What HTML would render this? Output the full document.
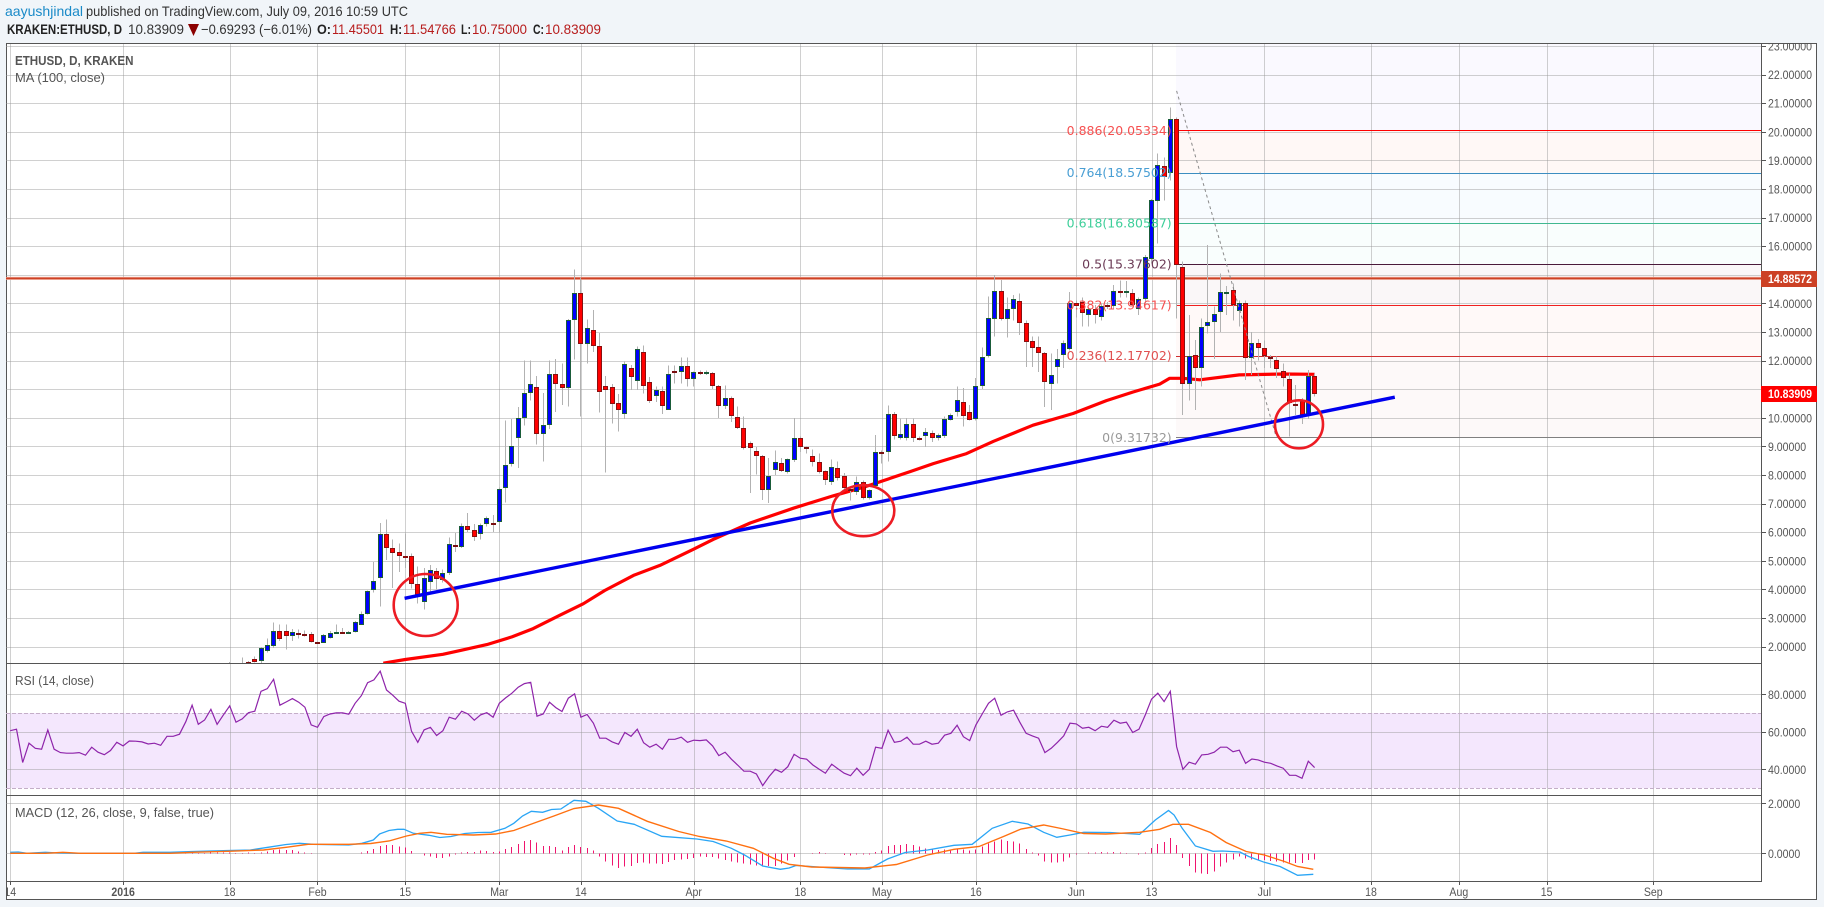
<!DOCTYPE html>
<html lang="en">
<head>
<meta charset="utf-8">
<title>ETHUSD Daily Chart</title>
<style>
html,body{margin:0;padding:0;background:#f1f5f9;width:1824px;height:907px;overflow:hidden}
svg{display:block}
text{font-family:"Liberation Sans",Arial,sans-serif}
.hd{font-size:14px}
</style>
</head>
<body>
<svg id="chart" xmlns="http://www.w3.org/2000/svg" width="1824" height="907" viewBox="0 0 1824 907">
  <defs>
    <clipPath id="clip-main"><rect x="6" y="44" width="1755" height="619"/></clipPath>
    <clipPath id="clip-rsi"><rect x="6" y="664" width="1755" height="131"/></clipPath>
    <clipPath id="clip-macd"><rect x="6" y="796" width="1755" height="85"/></clipPath>
    <clipPath id="clip-axis"><rect x="1762" y="44" width="55" height="837"/></clipPath>
    <clipPath id="clip-time"><rect x="7" y="882" width="1753" height="18"/></clipPath>
  </defs>
  <rect x="0" y="0" width="1824" height="907" fill="#f1f5f9"/>

  <g>
    <text class="hd" x="5" y="16" fill="#1a8ac8" textLength="78" lengthAdjust="spacingAndGlyphs">aayushjindal</text>
    <text class="hd" x="86" y="16" fill="#333" textLength="322" lengthAdjust="spacingAndGlyphs">published on TradingView.com, July 09, 2016 10:59 UTC</text>
    <text class="hd" x="7" y="34" fill="#222" font-weight="bold" textLength="115" lengthAdjust="spacingAndGlyphs">KRAKEN:ETHUSD, D</text>
    <text class="hd" x="128" y="34" fill="#333" textLength="56" lengthAdjust="spacingAndGlyphs">10.83909</text>
    <polygon points="188,24 199,24 193.5,36" fill="#8b0000"/>
    <text class="hd" x="201" y="34" fill="#333" textLength="111" lengthAdjust="spacingAndGlyphs">−0.69293 (−6.01%)</text>
    <text class="hd" x="317" y="34" fill="#222" font-weight="bold" textLength="14" lengthAdjust="spacingAndGlyphs">O:</text>
    <text class="hd" x="332" y="34" fill="#b71c1c" textLength="52" lengthAdjust="spacingAndGlyphs">11.45501</text>
    <text class="hd" x="390" y="34" fill="#222" font-weight="bold" textLength="12" lengthAdjust="spacingAndGlyphs">H:</text>
    <text class="hd" x="403" y="34" fill="#b71c1c" textLength="53" lengthAdjust="spacingAndGlyphs">11.54766</text>
    <text class="hd" x="461" y="34" fill="#222" font-weight="bold" textLength="10" lengthAdjust="spacingAndGlyphs">L:</text>
    <text class="hd" x="472" y="34" fill="#b71c1c" textLength="55" lengthAdjust="spacingAndGlyphs">10.75000</text>
    <text class="hd" x="533" y="34" fill="#222" font-weight="bold" textLength="11" lengthAdjust="spacingAndGlyphs">C:</text>
    <text class="hd" x="545" y="34" fill="#b71c1c" textLength="56" lengthAdjust="spacingAndGlyphs">10.83909</text>
  </g>

  <rect x="6.5" y="43.5" width="1810" height="856" fill="#fff" stroke="#555" stroke-width="1"/>
  <g id="layer-fib-fill"></g>
  <rect id="rsi-band" fill="#f4e7fd"/>
  <g id="layer-grid"></g>
  <g id="layer-rsi-guides"></g>
  <g clip-path="url(#clip-main)">
    <g id="layer-fib-lines"></g>
    <g id="layer-resistance"></g>
    <g id="layer-ma"></g>
    <g id="layer-candles"></g>
    <g id="layer-drawings"></g>
    <ellipse cx="425.7" cy="605" rx="32" ry="31" fill="none" stroke="#ed1c24" stroke-width="2.6"/>
    <ellipse cx="863.3" cy="510.7" rx="31" ry="25.5" fill="none" stroke="#ed1c24" stroke-width="2.6"/>
    <ellipse cx="1299" cy="424.3" rx="24" ry="24" fill="none" stroke="#ed1c24" stroke-width="2.6"/>
    <g id="layer-fib-labels"></g>
  </g>
  <g clip-path="url(#clip-rsi)"><g id="layer-rsi"></g></g>
  <g clip-path="url(#clip-macd)"><g id="layer-macd"></g></g>

  <g stroke="#555" stroke-width="1" fill="none" shape-rendering="crispEdges">
    <line x1="6" y1="663.5" x2="1761" y2="663.5"/>
    <line x1="6" y1="795.5" x2="1761" y2="795.5"/>
    <line x1="6" y1="881.5" x2="1761" y2="881.5"/>
    <line x1="1761.5" y1="43" x2="1761.5" y2="882"/>
  </g>
  <g clip-path="url(#clip-axis)"><g id="layer-y-axis"></g></g>
  <g clip-path="url(#clip-time)"><g id="layer-x-axis"></g></g>
  <g id="layer-x-ticks"></g>

  <rect x="1761" y="271" width="56" height="16" fill="#cc4125"/>
  <text transform="translate(1768,283) scale(.88,1)" font-size="12" font-weight="bold" fill="#fff">14.88572</text>
  <rect x="1761" y="386" width="56" height="16" fill="#ff0000"/>
  <text transform="translate(1768,398) scale(.88,1)" font-size="12" font-weight="bold" fill="#fff">10.83909</text>

  <text x="15" y="65" font-size="13" font-weight="bold" fill="#555" textLength="118.5" lengthAdjust="spacingAndGlyphs">ETHUSD, D, KRAKEN</text>
  <text x="15" y="82" font-size="13" fill="#555" textLength="90" lengthAdjust="spacingAndGlyphs">MA (100, close)</text>
  <text x="15" y="685" font-size="13" fill="#555" textLength="79" lengthAdjust="spacingAndGlyphs">RSI (14, close)</text>
  <text x="15" y="817" font-size="13" fill="#555" textLength="199" lengthAdjust="spacingAndGlyphs">MACD (12, 26, close, 9, false, true)</text>
</svg>

<script>
// ---------- Data ----------
const firstCandleDay = 35;
const opens = [
1.40,1.3,1.3,1.47,1.55,1.5,1.86,2.02,2.56,2.56,
2.37,2.46,2.44,2.45,2.15,2.14,2.31,2.5,2.52,2.49,
2.52,2.77,3.15,3.99,4.41,5.95,5.45,5.31,5.18,5.18,
4.2,3.57,4.27,4.66,4.32,4.58,5.56,5.5,6.2,6.06,
5.95,6.3,6.31,6.34,7.56,8.39,9.31,9.99,10.87,11.08,
9.45,9.75,11.53,11.18,11.03,13.42,14.37,12.58,13.07,12.51,
11.11,11.08,10.52,10.15,11.74,11.27,12.29,11.25,10.75,10.94,
10.29,11.63,11.59,11.81,11.34,11.6,11.58,11.57,11.11,10.4,
10.69,10.03,9.64,9.12,8.84,8.66,7.46,8.16,8.42,8.12,
8.52,9.29,8.97,8.66,8.45,8.14,7.75,8.24,7.95,7.5,
7.4,7.74,7.18,7.6,8.81,8.82,10.12,9.29,9.31,9.77,
9.31,9.38,9.47,9.31,9.38,9.94,10.19,10.54,10.2,9.96,
11.1,12.15,13.46,14.42,13.47,13.82,14.1,13.3,12.69,12.46,
12.25,11.18,11.76,12.21,12.42,14.03,14.06,13.6,13.79,13.51,
13.94,13.91,14.44,14.4,14.35,13.82,14.14,15.54,17.57,18.79,
18.55,20.44,15.28,11.18,12.21,11.73,13.22,13.34,13.69,14.37,
14.47,13.73,14.03,12.08,12.6,12.43,12.14,12.01,11.63,11.35,
10.47,10.57,10.13,11.45];
const closes = [
1.44,1.35,1.38,1.46,1.46,1.96,2.07,2.56,2.27,2.37,
2.52,2.44,2.42,2.16,2.13,2.41,2.49,2.52,2.5,2.51,
2.87,3.15,3.96,4.31,5.95,5.45,5.29,5.17,5.11,4.2,
3.82,4.41,4.69,4.35,4.59,5.57,5.54,6.2,6.06,5.83,
6.26,6.49,6.29,7.52,8.35,9.01,9.99,10.87,11.18,9.45,
9.75,11.53,11.18,11.03,13.42,14.37,12.58,13.14,12.51,10.89,
10.96,10.5,10.29,11.88,11.41,12.41,11.1,10.57,10.97,10.4,
11.53,11.59,11.81,11.34,11.6,11.57,11.6,11.1,10.43,10.69,
10.05,9.66,8.96,8.93,8.65,7.46,7.96,8.45,8.15,8.56,
9.29,8.98,8.95,8.45,8.09,7.81,8.28,7.91,7.53,7.47,
7.74,7.19,7.46,8.82,8.77,10.12,9.35,9.42,9.77,9.29,
9.29,9.5,9.31,9.4,9.96,10.1,10.61,10.08,9.92,11.1,
12.11,13.48,14.42,13.47,13.79,14.17,13.3,12.66,12.45,12.25,
11.25,11.5,12.04,12.6,14.0,13.92,13.68,13.79,13.61,13.92,
13.92,14.44,14.35,14.42,13.96,14.14,15.61,17.6,18.83,18.41,
20.44,15.34,11.18,12.17,11.73,13.16,13.34,13.62,14.39,14.41,
13.94,14.03,12.08,12.6,12.43,12.15,12.12,11.71,11.38,10.51,
10.45,10.1,11.47,10.84];
const highs = [
1.47,1.4,1.62,1.5,1.65,1.98,2.28,2.84,2.77,2.77,
2.62,2.6,2.57,2.51,2.17,2.44,2.55,2.77,2.65,2.55,
2.9,3.22,3.96,4.96,6.33,6.45,5.75,5.6,5.95,5.25,
4.8,4.75,4.85,4.75,4.69,5.82,5.98,6.3,6.68,6.28,
6.3,6.55,6.6,7.56,9.9,9.95,10.37,12,12,11.47,
10.87,12,12.05,11.9,13.45,15.18,14.9,13.43,13.77,12.97,
11.47,11.19,10.84,11.97,11.85,12.5,12.52,11.43,11.1,11.1,
11.82,11.82,12.1,12.1,11.62,11.65,11.65,11.6,11.15,11.13,
10.75,10.4,10.05,9.18,8.98,8.7,8.6,8.85,8.6,8.58,
10,9.35,9,8.9,8.75,8.15,8.54,8.48,8.07,7.55,
7.95,7.8,7.5,9.4,8.85,10.43,10.2,9.98,10,9.98,
9.35,9.65,9.55,9.45,10.05,10.15,11.1,11.05,10.45,11.4,
12.46,14.25,15,14.82,14.2,14.3,14.35,13.4,12.85,12.85,
12.3,12.25,12.4,12.7,14.4,14.1,14.2,13.85,13.95,14,
14.05,14.65,14.8,14.78,14.5,14.2,15.7,17.65,19.25,19.1,
20.85,20.5,15.46,13.6,12.72,13.48,16.04,13.9,15.05,14.6,
14.7,14.1,14.1,13,12.75,12.7,12.2,12.15,11.9,11.55,
11.15,10.7,11.67,11.55];
const lows = [
1.3,1.2,1.2,1.4,1.45,1.4,1.8,1.95,2.2,1.9,
2.2,2.28,2.35,2.15,2.1,2.12,2.28,2.45,2.47,2.45,
2.5,2.75,3.12,3.9,3.41,5.02,4.05,4.6,4.75,4.03,
3.5,3.3,3.9,4,4.25,4.5,5.3,5.45,6,5.7,
5.75,6.2,6,6,7.04,8.3,8.25,9.73,10.6,9.06,
8.47,9.6,10.2,10.45,10.4,12.03,10.05,11.9,12.3,10.19,
8.09,9.8,9.52,9.96,10.98,10.98,10.85,10.51,10.55,10.13,
10.28,11.2,11.2,11.1,11.1,11.5,11.5,11,10,10.3,
9.85,9.6,8.9,7.37,8.01,7.13,7.02,8,8.1,8.05,
8.45,8.8,8.75,8.3,8.05,7.65,7.65,7.8,7.45,7.11,
7.3,7.15,7.15,7.55,8.4,8.47,9.25,9.25,9.2,9.15,
9.2,8.98,9.15,9.2,9.3,9.9,10.05,9.7,9.9,9.9,
11,12.1,12.85,13.4,12.8,13.4,12.9,11.78,11.78,11.6,
10.38,10.28,11.2,11.75,12.35,13.5,13.2,13.2,13.3,13.4,
13.8,13.8,14.2,14.2,13.9,13.6,14,15.4,16.1,17.6,
18.3,13.48,10.1,10.6,10.27,11.09,12.95,12.05,13,13.6,
13.4,13.2,11.32,11.5,12,11.75,11.75,11.4,11.1,9.34,
10.1,9.78,9.95,10.75];

const maDays = [59.5,63,69,71.9,76,80,83.4,87.7,91.4,94.8,99.4,103.6,108.9,112.1,118,124.9,131.2,136.5,143.5,147.2,152.5,156.8,163.1,169.5,174.8,179,183.3,184.9,187,189.7,196,203,208];
const maValues = [1.42,1.55,1.73,1.87,2.07,2.34,2.63,3.1,3.5,3.96,4.49,4.84,5.4,5.75,6.32,6.84,7.27,7.6,8.12,8.4,8.75,9.18,9.74,10.15,10.6,10.9,11.18,11.38,11.38,11.33,11.5,11.53,11.52];

const rsiValues = [
60.6,61.4,43.6,53.9,51.2,50.7,61,50.7,48.9,48.6,
48.6,48.9,47.5,51.8,49.1,47.8,50,54.4,52.5,55.1,
55,54.6,53.5,53.9,52.8,57.6,57.6,58.7,65.4,74.2,
64,66.3,72,64,69,73.8,65.1,66.9,70.2,71,
81.6,83,88,74.2,75.9,77.7,75.8,73.1,63.7,62.4,
68.1,69.5,70.1,70.1,69.4,75.2,79.3,86.2,87.7,92.3,
82.3,79.5,76.3,75.2,60.3,54.4,61,62.4,58,60.6,
67.8,66.7,71,69.5,66.2,69,70.2,67.8,75.2,78.1,
80.6,83.8,85.7,86.4,68.3,69.5,75.8,72.9,70.8,77.9,
80.2,67.8,69.2,64.6,56.6,56.6,54.6,53.4,59.6,57.6,
61.4,54.2,51.8,53.4,50.7,56,56,57.1,54.4,55.5,
55.3,55.7,52.5,47.3,49.1,45.4,42.3,39,39,37.5,
31.3,36.1,40,38.4,41.4,48,45.9,45.4,42.3,40,
37.9,42.7,40.2,37.9,36.6,40.6,36.8,40,51.8,51.2,
60.8,54.4,55,57.1,53.4,53.4,55,53.4,53.9,58.2,
59.2,63.5,57.4,55.3,63.7,69.5,75.2,77.9,68.8,70.6,
71.5,65.1,59.2,57.8,56.6,48.9,51.2,54.4,57.8,64.6,
64.2,61.9,62.4,60.6,63,62.4,66.2,64.6,65.1,59.6,
61.4,69,77.4,80.6,76.1,81.6,52.1,40,43.8,42.7,
47.7,48,49.1,51.8,51.8,49.4,50.2,43.2,45.5,45,
43.8,43.2,41.8,40.6,36.8,36.8,35.2,44.3,40.9];

const macdDays = [0,1.3,2.7,5.6,7.7,11.2,19.8,21.2,25.5,29,34.7,38.3,41.1,44,46.1,48.3,54,56.1,57.9,58.9,60.4,61.8,62.8,64.3,66.8,68.5,70.3,72.5,74.6,76.7,78.9,80.3,81.7,83.1,84.9,86.3,87.8,89.9,91.8,93.8,96.8,99.5,103.9,109.5,112.1,115,117.1,120,122.8,124.2,125.3,127.8,129.9,133.5,137,139.9,142.7,146.3,150.5,153.4,156.6,159.8,162.3,164.8,166.9,169,171.2,175.4,180.1,182.6,184.7,185.6,186.9,189,191.8,193.3,196.1,197.5,200,202.5,205.3,207.8];
const macdValues = [.04,.05,0,.04,.01,0,0,.04,.04,.07,.11,.13,.24,.35,.4,.36,.33,.4,.53,.77,.91,.96,.96,.8,.72,.63,.67,.79,.83,.84,1,1.2,1.49,1.68,1.64,1.75,1.77,2.12,2.08,1.8,1.29,1.16,.68,.57,.47,.2,-.07,-.51,-.64,-.59,-.49,-.53,-.57,-.63,-.63,-.23,.03,.13,.32,.36,1,1.28,1.17,.84,.64,.73,.84,.83,.76,1.33,1.71,1.53,1,.29,.08,.09,.05,-.13,-.36,-.53,-.88,-.84];
const signalDays = [0,5.6,8.4,11.2,25.5,29,34.7,40.4,44,47.5,54,57.5,60.4,63.2,65.3,67.1,69.6,73.9,77.4,80.3,83.8,86.7,89.9,93.8,97,101.6,106.6,109.9,114.2,118.5,121.7,124.2,127.8,136.3,141.3,146.3,150.5,154.5,158.4,161.2,164.8,167.6,171.2,174.7,180.1,183.3,185.4,187.9,191.4,193.9,197.1,200,203.2,205.3,207.8];
const signalValues = [0,0,.04,0,0,.04,.08,.13,.24,.36,.36,.39,.49,.69,.8,.84,.76,.73,.77,.91,1.23,1.49,1.79,1.93,1.8,1.28,.87,.67,.49,.2,-.2,-.44,-.55,-.59,-.45,-.07,.16,.27,.67,.97,1.13,.99,.79,.77,.84,.96,1.16,1.16,.83,.43,.07,-.07,-.33,-.53,-.64];
const histValues = [
0,0,0,0,0,0,0,0,0,0,0,0,0,0,0,0,0,0,0,0,0,0,0,0,0,0,0,0,
.01,.01,.01,.01,.03,.03,.03,.03,.01,.01,.03,.01,
.04,.07,.13,.15,.13,.13,.08,.04,.01,0,0,0,0,0,0,0,
.04,.09,.17,.29,.33,.33,.28,.24,.09,0,
-.08,-.13,-.19,-.19,-.13,-.05,.03,.05,.05,.11,
.09,.05,.08,.17,.25,.37,.49,.53,.43,.29,
.29,.25,.12,.25,.33,.25,.21,.11,-.13,-.32,
-.48,-.59,-.53,-.51,-.39,-.37,-.4,-.4,-.43,-.35,
-.27,-.25,-.23,-.19,-.13,-.15,-.15,-.21,-.27,-.32,
-.36,-.41,-.45,-.48,-.53,-.51,-.51,-.4,-.29,-.15,
-.01,0,.01,.05,.01,0,0,-.07,-.09,-.05,
-.05,-.05,.05,.12,.29,.33,.33,.37,.33,.27,
.2,.17,.13,.16,.13,.15,.16,.11,.16,.27,
.39,.48,.56,.49,.48,.4,.17,.03,-.09,-.32,
-.37,-.37,-.32,-.17,-.05,0,.03,.04,.05,.03,
.05,.03,.01,0,-.05,.03,.21,.37,.45,.61,
.33,-.19,-.51,-.77,-.8,-.83,-.73,-.53,-.37,-.24,
-.13,-.2,-.25,-.27,-.27,-.31,-.33,-.37,-.37,-.39,
-.39,-.27,-.24];

const priceTicks = [23,22,21,20,19,18,17,16,15,14,13,12,11,10,9,8,7,6,5,4,3,2];
const priceTickLabels = ["23.00000","22.00000","21.00000","20.00000","19.00000","18.00000","17.00000","16.00000","","14.00000","13.00000","12.00000","","10.00000","9.00000","8.00000","7.00000","6.00000","5.00000","4.00000","3.00000","2.00000"];
const rsiTicks = [80,60,40];
const rsiTickLabels = ["80.0000","60.0000","40.0000"];
const macdTicks = [2,0];
const macdTickLabels = ["2.0000","0.0000"];
const timeTickDays = [0,18,35,49,63,78,91,109,126,139,154,170,182,200,217,231,245,262];
const timeTickLabels = ["14","2016","18","Feb","15","Mar","14","Apr","18","May","16","Jun","13","Jul","18","Aug","15","Sep"];

const fibRatios = ["0.886","0.764","0.618","0.5","0.382","0.236","0"];
const fibPrices = [20.05334,18.57502,16.80587,15.37602,13.94617,12.17702,9.31732];
const fibColors = ["#ff0000","#3c8dc0","#40b890","#4a1a3a","#f02020","#d03030","#808080"];
const fibTextColors = ["#f65050","#4a9fd4","#3ecf9a","#6b3a55","#f65050","#e05050","#999999"];
const fibFills = ["#fff8f6","#f8fcff","#f9fefd","#faf7f8","#fff9f8","#fdf9f9"];
const fibStartDay = 186;
const fibTopPrice = 23.2;
const trendDays = [62.9,220.8];
const trendPrices = [3.69,10.72];
const fibTrendDays = [186,201.9];
const fibTrendPrices = [21.43,9.32];
const resistancePrice = 14.88572;

// ---------- Axis functions ----------
function xDay(d){ return 10.2 + 6.271*d; }
function yPrice(p){ return 46 + (23-p)*28.6; }
function yRsi(v){ return 694.3 + (80-v)*1.875; }
function yMacd(v){ return 853.3 - v*25; }

const NS = "http://www.w3.org/2000/svg";
function mk(tag, parent, attrs){
  const e = document.createElementNS(NS, tag);
  for (const k in attrs) e.setAttribute(k, attrs[k]);
  document.getElementById(parent).appendChild(e);
  return e;
}
function pathFrom(xs, ys){
  return xs.map((x,i)=>(i?"L":"M")+x.toFixed(1)+" "+ys[i].toFixed(1)).join(" ");
}
const LEFT = 6, RIGHT = 1761;

// Fib fills
const fibX = xDay(fibStartDay)-0.6;
const topFill = mk("rect","layer-fib-fill",{x:fibX,y:44,width:RIGHT-fibX,height:yPrice(fibPrices[0])-44,fill:"#faf9ff"});


for (let i=0;i<fibFills.length;i++){
  const r = mk("rect","layer-fib-fill",{x:fibX,y:yPrice(fibPrices[i]),width:RIGHT-fibX,height:yPrice(fibPrices[i+1])-yPrice(fibPrices[i]),fill:fibFills[i]});
  
  
}

// RSI band
const band = document.getElementById("rsi-band");
band.setAttribute("x",LEFT+1);
band.setAttribute("y",yRsi(70));
band.setAttribute("width",RIGHT-LEFT-1);
band.setAttribute("height",yRsi(30)-yRsi(70));

// Grid
const GRID = "#d3d3d3";
timeTickDays.forEach(d=>{
  const x = Math.round(xDay(d))+.5;
  const l = mk("line","layer-grid",{x1:x,x2:x,y1:44,y2:881,stroke:"rgba(150,150,150,.45)","stroke-width":1,"shape-rendering":"crispEdges"});
  
  
});
priceTicks.forEach(p=>{
  const y = Math.round(yPrice(p))+.5;
  const l = mk("line","layer-grid",{x1:LEFT,x2:RIGHT,y1:y,y2:y,stroke:"rgba(150,150,150,.45)","stroke-width":1,"shape-rendering":"crispEdges"});
  
  
});
rsiTicks.forEach(v=>{
  const y = Math.round(yRsi(v))+.5;
  const l = mk("line","layer-grid",{x1:LEFT,x2:RIGHT,y1:y,y2:y,stroke:"rgba(150,150,150,.45)","stroke-width":1,"shape-rendering":"crispEdges"});
  
  
});
macdTicks.forEach(v=>{
  const y = Math.round(yMacd(v))+.5;
  const l = mk("line","layer-grid",{x1:LEFT,x2:RIGHT,y1:y,y2:y,stroke:"rgba(150,150,150,.45)","stroke-width":1,"shape-rendering":"crispEdges"});
  
  
});
[70,30].forEach(v=>{
  const y = Math.round(yRsi(v))+.5;
  const l = mk("line","layer-rsi-guides",{x1:LEFT,x2:RIGHT,y1:y,y2:y,stroke:"#c4aec8","stroke-width":1,"stroke-dasharray":"4 2","shape-rendering":"crispEdges"});
  
  
});

// Fib lines
fibPrices.forEach((p,i)=>{
  const y = Math.round(yPrice(p))+.5;
  const l = mk("line","layer-fib-lines",{x1:fibX,x2:RIGHT,y1:y,y2:y,stroke:fibColors[i],"stroke-width":1,"shape-rendering":"crispEdges"});
  
  
});

// Resistance
const ry = yPrice(resistancePrice)+.3;
const resA = mk("line","layer-resistance",{x1:LEFT,x2:RIGHT,y1:ry,y2:ry,stroke:"#e8907c","stroke-width":3});


const resB = mk("line","layer-resistance",{x1:LEFT,x2:RIGHT,y1:ry,y2:ry,stroke:"#cc4125","stroke-width":1.2});



// MA
const maPath = mk("path","layer-ma",{d:pathFrom(maDays.map(xDay),maValues.map(yPrice)),fill:"none",stroke:"#ff0000","stroke-width":3.2,"stroke-linejoin":"round"});



// Candles
closes.forEach((c,i)=>{
  const d = firstCandleDay+i, o = opens[i], up = c>=o;
  const cx = Math.floor(xDay(d));
  const w = mk("line","layer-candles",{x1:cx+.5,x2:cx+.5,y1:yPrice(highs[i]),y2:yPrice(lows[i]),stroke:"#b2b2b2","stroke-width":1,"shape-rendering":"crispEdges"});
  
  
  const top = Math.round(yPrice(Math.max(o,c))), bot = Math.round(yPrice(Math.min(o,c)));
  const fill = up ? "#0000ff" : "#ff0000", edge = up ? "#1a5c3a" : "#8a1010";
  if (bot-top < 2){
    const r = mk("rect","layer-candles",{x:cx-2,y:top,width:5,height:2,fill:(up?"#1a5c3a":"#7a1010"),"shape-rendering":"crispEdges"});
    
    
  } else {
    const r = mk("rect","layer-candles",{x:cx-1.5,y:top+.5,width:4,height:bot-top-1,fill:fill,stroke:edge,"stroke-width":1,"shape-rendering":"crispEdges"});
    
    
  }
});

// Drawings
const tl = mk("path","layer-drawings",{d:pathFrom(fibTrendDays.map(xDay),fibTrendPrices.map(yPrice)),fill:"none",stroke:"#8a8a8a","stroke-width":1,"stroke-dasharray":"3 3"});


const tr = mk("path","layer-drawings",{d:pathFrom(trendDays.map(xDay),trendPrices.map(yPrice)),fill:"none",stroke:"#0000ee","stroke-width":3.4});



// Fib labels
const fibLabelWidths = [105,105,105,89.5,105,105,69.5];
fibPrices.forEach((p,i)=>{
  const t = mk("text","layer-fib-labels",{x:1171.7-fibLabelWidths[i],y:yPrice(p)+4.5,fill:fibTextColors[i],"font-size":12,textLength:fibLabelWidths[i],lengthAdjust:"spacingAndGlyphs",style:'font-family:"DejaVu Sans",sans-serif'});
  t.textContent = fibRatios[i]+"("+p.toFixed(5)+")";
  
  
});

// RSI
const rsiPath = mk("path","layer-rsi",{d:pathFrom(rsiValues.map((v,i)=>xDay(i)),rsiValues.map(yRsi)),fill:"none",stroke:"#8e24aa","stroke-width":1.2});



// MACD
histValues.forEach((v,i)=>{
  if(!v) return;
  const x = Math.floor(xDay(i))+.5;
  const b = mk("line","layer-macd",{x1:x,x2:x,y1:yMacd(0),y2:yMacd(v),stroke:"#f0146e","stroke-width":1,"shape-rendering":"crispEdges"});
  
  
});
const mLine = mk("path","layer-macd",{d:pathFrom(macdDays.map(xDay),macdValues.map(yMacd)),fill:"none",stroke:"#2aa5f5","stroke-width":1.3});


const sLine = mk("path","layer-macd",{d:pathFrom(signalDays.map(xDay),signalValues.map(yMacd)),fill:"none",stroke:"#ff7010","stroke-width":1.4});



// Y axis labels
function yLabel(y,label){
  const k = mk("line","layer-y-axis",{x1:1762,x2:1766,y1:Math.round(y)+.5,y2:Math.round(y)+.5,stroke:"#555","stroke-width":1,"shape-rendering":"crispEdges"});
  
  
  if(!label) return;
  const t = mk("text","layer-y-axis",{transform:"translate(1768,"+(y+4.5)+") scale(.88,1)","font-size":12,fill:"#555"});
  t.textContent = label;
  
  
}
priceTicks.forEach((p,i)=>yLabel(yPrice(p),priceTickLabels[i]));
rsiTicks.forEach((v,i)=>yLabel(yRsi(v),rsiTickLabels[i]));
macdTicks.forEach((v,i)=>yLabel(yMacd(v),macdTickLabels[i]));
yLabel(yPrice(10.83909),"");

// X axis labels
timeTickDays.forEach((d,i)=>{
  const x = xDay(d);
  const tick = mk("line","layer-x-ticks",{x1:Math.round(x)+.5,x2:Math.round(x)+.5,y1:881,y2:885,stroke:"#555","stroke-width":1,"shape-rendering":"crispEdges"});
  
  
  const t = mk("text","layer-x-axis",{transform:"translate("+x+",896) scale(.88,1)","font-size":12,fill:"#555","text-anchor":"middle","font-weight":timeTickLabels[i]==="2016"?"bold":"normal"});
  t.textContent = timeTickLabels[i];
  
  
});
</script>
</body>
</html>
